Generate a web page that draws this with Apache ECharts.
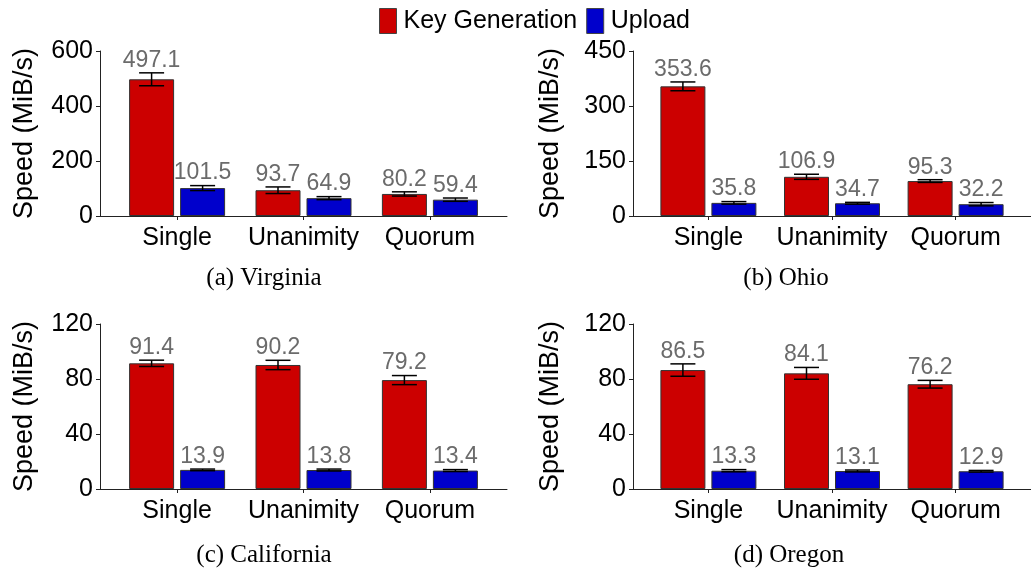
<!DOCTYPE html>
<html>
<head>
<meta charset="utf-8">
<style>
  html, body { margin: 0; padding: 0; background: #fff; }
  #root { width: 1031px; height: 571px; }
</style>
<script src="https://cdn.jsdelivr.net/npm/echarts@6/dist/echarts.min.js"></script>
</head>
<body>
<div id="root"></div>
<script>
const categories = ['Single', 'Unanimity', 'Quorum'];
const seriesNames = ['Key Generation', 'Upload'];

const panelTitles = ['(a) Virginia', '(b) Ohio', '(c) California', '(d) Oregon'];
const yMax = [600, 450, 120, 120];
const yStep = [200, 150, 40, 40];

// key generation / upload speeds per region
const keyGen = [
  [497.1, 93.7, 80.2],
  [353.6, 106.9, 95.3],
  [91.4, 90.2, 79.2],
  [86.5, 84.1, 76.2]
];
const upload = [
  [101.5, 64.9, 59.4],
  [35.8, 34.7, 32.2],
  [13.9, 13.8, 13.4],
  [13.3, 13.1, 12.9]
];
// error (+/-) read from the whiskers
const keyGenErr = [
  [23.5, 12, 7.7],
  [12, 7, 3.7],
  [2.3, 3.4, 3.3],
  [4.5, 4.3, 2.8]
];
const uploadErr = [
  [9, 5.5, 6],
  [3.5, 2.5, 4.5],
  [0.6, 0.7, 0.7],
  [0.8, 0.7, 0.6]
];

const colors = ['#cc0000', '#0000cc'];
const barW = 45;
const barGapPx = 6;

let myChart = echarts.init(document.getElementById('root'));

// panel placement
const grids = [
  { left: 100, top: 51, width: 407, height: 165 },
  { left: 633, top: 51, width: 407, height: 165 },
  { left: 100, top: 324, width: 407, height: 165 },
  { left: 633, top: 324, width: 407, height: 165 }
];
const nameGaps = [62, 69, 62, 69];
const captionPos = [[264, 278], [786, 278], [264, 555], [789, 555]];

let xAxes = [], yAxes = [], series = [], graphics = [];

grids.forEach((g, p) => {
  xAxes.push({
    type: 'value',
    gridIndex: p,
    min: -0.61,
    max: 2.61,
    splitLine: { show: false },
    axisLine: { show: true, lineStyle: { color: '#222', width: 1 } },
    axisTick: { show: true, length: 4, customValues: [0, 1, 2], lineStyle: { color: '#222' } },
    axisLabel: {
      customValues: [0, 1, 2],
      formatter: v => categories[Math.round(v)],
      color: '#000',
      fontSize: 25,
      fontFamily: 'Liberation Sans',
      margin: 10
    }
  });
  yAxes.push({
    type: 'value',
    gridIndex: p,
    min: 0,
    max: yMax[p],
    interval: yStep[p],
    name: 'Speed (MiB/s)',
    nameLocation: 'middle',
    nameGap: nameGaps[p],
    nameTextStyle: { fontSize: 27, fontFamily: 'Liberation Sans', color: '#000' },
    splitLine: { show: false },
    axisLine: { show: true, onZero: false, lineStyle: { color: '#222', width: 1 } },
    axisTick: { show: true, length: 4, lineStyle: { color: '#222' } },
    axisLabel: { color: '#000', fontSize: 25, fontFamily: 'Liberation Sans', margin: 7 }
  });

  const vals = [keyGen[p], upload[p]];
  const errs = [keyGenErr[p], uploadErr[p]];
  vals.forEach((arr, s) => {
    series.push({
      name: seriesNames[s],
      type: 'bar',
      xAxisIndex: p,
      yAxisIndex: p,
      barWidth: barW,
      barGap: (barGapPx / barW * 100) + '%',
      itemStyle: { color: colors[s], borderColor: '#333', borderWidth: 1 },
      emphasis: { disabled: true },
      data: arr.map((v, i) => [i, v])
    });
  });
  vals.forEach((arr, s) => {
    const shift = (s === 0 ? -1 : 1) * (barW + barGapPx) / 2;
    series.push({
      type: 'custom',
      xAxisIndex: p,
      yAxisIndex: p,
      z: 5,
      silent: true,
      data: arr.map((v, i) => [i, v, errs[s][i]]),
      renderItem: function (params, api) {
        const x = api.value(0), v = api.value(1), e = api.value(2);
        const hi = api.coord([x, v + e]);
        const lo = api.coord([x, v - e]);
        const cx = hi[0] + shift;
        const cap = 12.5;
        const st = { stroke: '#000', lineWidth: 1.5 };
        return {
          type: 'group',
          children: [
            { type: 'line', shape: { x1: cx, y1: hi[1], x2: cx, y2: lo[1] }, style: st },
            { type: 'line', shape: { x1: cx - cap, y1: hi[1], x2: cx + cap, y2: hi[1] }, style: st },
            { type: 'line', shape: { x1: cx - cap, y1: lo[1], x2: cx + cap, y2: lo[1] }, style: st },
            {
              type: 'text',
              x: cx, y: hi[1] - 1,
              style: {
                text: String(v),
                align: 'center',
                verticalAlign: 'bottom',
                fill: '#6b6b6b',
                fontSize: 23,
                fontFamily: 'Liberation Sans'
              }
            }
          ]
        };
      }
    });
  });

  graphics.push({
    type: 'text',
    x: captionPos[p][0],
    y: captionPos[p][1],
    style: {
      text: panelTitles[p],
      align: 'center',
      verticalAlign: 'middle',
      fontSize: 25,
      fontFamily: 'Liberation Serif',
      fill: '#000'
    }
  });
});

let option = {
  animation: false,
  legend: {
    data: seriesNames,
    top: 3,
    left: 374,
    itemWidth: 17,
    itemHeight: 25,
    itemGap: 9,
    icon: 'rect',
    textStyle: { fontSize: 25, fontFamily: 'Liberation Sans', color: '#000', padding: [0, 0, 0, 2] },
    itemStyle: { borderColor: '#444', borderWidth: 1 }
  },
  grid: grids,
  xAxis: xAxes,
  yAxis: yAxes,
  series: series,
  graphic: graphics
};

myChart.setOption(option);
</script>
</body>
</html>
